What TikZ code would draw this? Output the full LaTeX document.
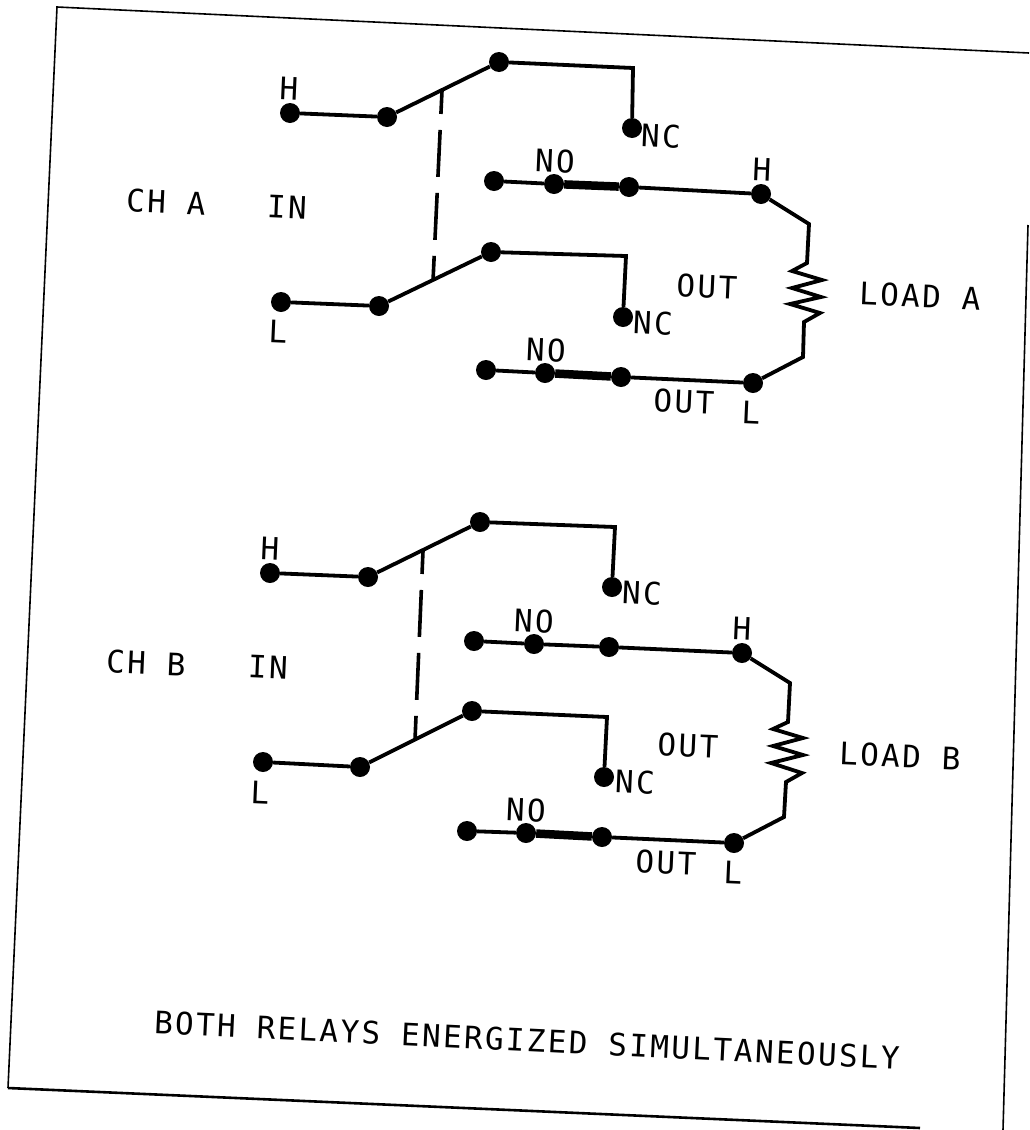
\documentclass[tikz,border=0pt]{standalone}
\usepackage{fontspec}
\setmainfont[LetterSpace=7.5]{DejaVu Sans Mono}
\tikzset{
	dot/.style={circle,fill=black,inner sep=0pt,minimum size=20pt},
	lbl/.style={font=\fontsize{31}{31}\selectfont,inner sep=0pt,rotate=-2.5},
	wire/.style={line width=3.8pt,line join=miter},
	contact/.style={line width=8.5pt},
	link/.style={line width=3.6pt,dash pattern=on 47pt off 16pt,dash phase=24pt},
	border/.style={line width=1.6pt}
}
\begin{document}
	\begin{tikzpicture}[x=1pt,y=-1pt]
		\useasboundingbox (0,0) rectangle (1029,1130);
		% sheet edges
		\coordinate (tl) at (57,7);
		\coordinate (tr) at (1029,53);
		\coordinate (bl) at (8,1088);
		\coordinate (br) at (920,1128);
		\coordinate (rt) at (1028,225);
		\coordinate (rb) at (1003,1130);
		\draw [border] (tr) -- (tl) -- (bl);
		\draw [line width=2.6pt] (bl) -- (br);
		\draw [border] (rt) -- (rb);
		% channel A
		\node [dot] (ahin) at (290,113) {};
		\node [dot] (ahp) at (387,117) {};
		\node [dot] (aht) at (499,62) {};
		\node [dot] (ahnc) at (632,128) {};
		\node [dot] (ahno0) at (494,181) {};
		\node [dot] (ahno1) at (554,184) {};
		\node [dot] (ahno2) at (629,187) {};
		\node [dot] (ahout) at (761,194) {};
		\node [dot] (alin) at (281,302) {};
		\node [dot] (alp) at (379,306) {};
		\node [dot] (alt) at (491,252) {};
		\node [dot] (alnc) at (623,317) {};
		\node [dot] (alno0) at (486,370) {};
		\node [dot] (alno1) at (545,373) {};
		\node [dot] (alno2) at (621,377) {};
		\node [dot] (alout) at (753,383) {};
		\coordinate (ahc) at (633,68);
		\coordinate (alc) at (626,256);
		\coordinate (alinka) at (442,91);
		\coordinate (alinkb) at (433,281);
		\draw [wire] (ahin) -- (ahp) -- (aht) -- (ahc) -- (ahnc);
		\draw [wire] (alin) -- (alp) -- (alt) -- (alc) -- (alnc);
		\draw [wire] (ahno0) -- (ahno1);
		\draw [contact] (ahno1) -- (ahno2);
		\draw [wire] (ahno2) -- (ahout);
		\draw [wire] (alno0) -- (alno1);
		\draw [contact] (alno1) -- (alno2);
		\draw [wire] (alno2) -- (alout);
		\draw [link] (alinka) -- (alinkb);
		\draw [wire] (ahout) -- (809,224) -- (807,263) -- (792,271) -- (822,280) -- (792,288) -- (821,297) -- (790,304) -- (820,313) -- (804,322) -- (803,357) -- (alout);
		\node [lbl] (tcha) at (166,202) {CH A};
		\node [lbl] (tina) at (287,207) {IN};
		\node [lbl] (thia) at (289,89) {H};
		\node [lbl] (tloa) at (278,332) {L};
		\node [lbl] (tnca) at (661,136) {NC};
		\node [lbl] (tnoa) at (555,161) {NO};
		\node [lbl] (thoa) at (762,170) {H};
		\node [lbl] (touta) at (707,287) {OUT};
		\node [lbl] (tloada) at (920,296) {LOAD A};
		\node [lbl] (tncb) at (653,323) {NC};
		\node [lbl] (tnob) at (546,350) {NO};
		\node [lbl] (toutb) at (684,402) {OUT};
		\node [lbl] (tlob) at (751,413) {L};
		% channel B
		\node [dot] (bhin) at (270,573) {};
		\node [dot] (bhp) at (368,577) {};
		\node [dot] (bht) at (480,522) {};
		\node [dot] (bhnc) at (612,587) {};
		\node [dot] (bhno0) at (474,641) {};
		\node [dot] (bhno1) at (534,644) {};
		\node [dot] (bhno2) at (609,647) {};
		\node [dot] (bhout) at (742,653) {};
		\node [dot] (blin) at (263,762) {};
		\node [dot] (blp) at (360,767) {};
		\node [dot] (blt) at (472,711) {};
		\node [dot] (blnc) at (604,777) {};
		\node [dot] (blno0) at (467,831) {};
		\node [dot] (blno1) at (526,833) {};
		\node [dot] (blno2) at (602,837) {};
		\node [dot] (blout) at (734,843) {};
		\coordinate (bhc) at (615,527);
		\coordinate (blc) at (607,717);
		\coordinate (blinka) at (423,551);
		\coordinate (blinkb) at (415,740);
		\draw [wire] (bhin) -- (bhp) -- (bht) -- (bhc) -- (bhnc);
		\draw [wire] (blin) -- (blp) -- (blt) -- (blc) -- (blnc);
		\draw [wire] (bhno0) -- (bhno1) -- (bhno2) -- (bhout);
		\draw [wire] (blno0) -- (blno1);
		\draw [contact] (blno1) -- (blno2);
		\draw [wire] (blno2) -- (blout);
		\draw [link] (blinka) -- (blinkb);
		\draw [wire] (bhout) -- (790,683) -- (788,722) -- (773,729) -- (803,738) -- (773,746) -- (803,755) -- (771,763) -- (802,773) -- (786,782) -- (784,817) -- (blout);
		\node [lbl] (tchb) at (146,663) {CH B};
		\node [lbl] (tinb) at (268,667) {IN};
		\node [lbl] (thib) at (270,549) {H};
		\node [lbl] (tlob2) at (260,793) {L};
		\node [lbl] (tncc) at (642,593) {NC};
		\node [lbl] (tnoc) at (534,621) {NO};
		\node [lbl] (thob) at (742,629) {H};
		\node [lbl] (toutc) at (688,746) {OUT};
		\node [lbl] (tloadb) at (900,756) {LOAD B};
		\node [lbl] (tncd) at (635,782) {NC};
		\node [lbl] (tnod) at (526,810) {NO};
		\node [lbl] (toutd) at (666,863) {OUT};
		\node [lbl] (tlod) at (733,873) {L};
		\node [lbl,rotate=-0.25] (ttitle) at (527,1040) {BOTH RELAYS ENERGIZED SIMULTANEOUSLY};
	\end{tikzpicture}
\end{document}
